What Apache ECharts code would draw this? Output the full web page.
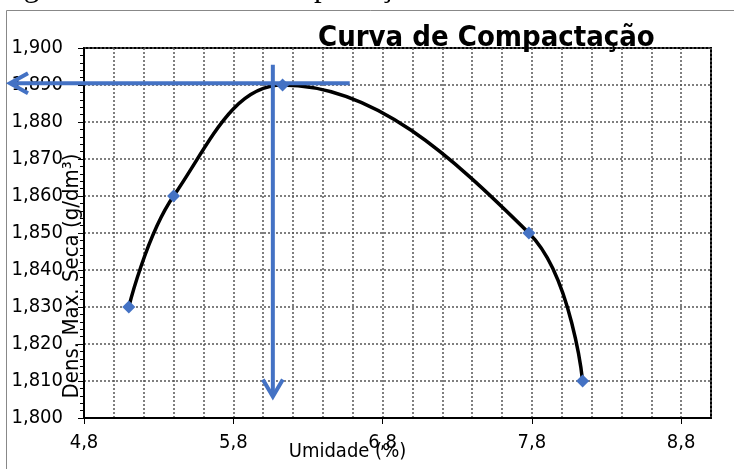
<!DOCTYPE html>
<html>
<head>
<meta charset="utf-8">
<script src="https://cdn.jsdelivr.net/npm/echarts@6/dist/echarts.min.js"></script>
<style>
html, body { margin: 0; padding: 0; background: #fff; }
#chart { width: 734px; height: 469px; }
</style>
</head>
<body>
<div id="chart"></div>
<script>
// umidade (%) x densidade seca maxima (g/dm3)
var umidade = [5.1, 5.4, 6.13, 7.78, 8.14];
var densidade = [1.830, 1.860, 1.890, 1.850, 1.810];
var xLabels = [4.8, 5.8, 6.8, 7.8, 8.8];

// leitura do ponto otimo (setas azuis)
var otimo = [6.065, 1.8905];
var setaHFim = 6.58;            // ponta direita da seta horizontal
var setaV = [1.8955, 1.8058];   // topo / ponta da seta vertical

var fmt = function (v, d) { return v.toFixed(d).replace('.', ','); };
var font = "'DejaVu Sans Condensed', 'DejaVu Sans', sans-serif";
var blue = '#4472c4';
var gridLine = { color: '#555', type: [2, 2], width: 1.5 };

var chart = echarts.init(document.getElementById('chart'));
chart.setOption({
  animation: false,
  title: {
    text: 'Curva de Compactação',
    left: 318, top: 24, padding: 0,
    textStyle: { fontFamily: font, fontSize: 29, fontWeight: 'bold', color: '#000' }
  },
  grid: {
    left: 84, right: 23, top: 48, bottom: 51,
    outerBoundsMode: 'none',
    show: true, borderColor: '#000', borderWidth: 2
  },
  xAxis: [
    {
      type: 'value', min: 4.8, max: 9.0, interval: 0.2,
      axisLine: { show: false },
      axisTick: { show: false },
      axisLabel: { show: false },
      splitLine: { lineStyle: gridLine }
    },
    {
      type: 'value', min: 4.8, max: 9.0, position: 'bottom',
      name: 'Umidade (%)', nameLocation: 'middle', nameGap: 24, nameMoveOverlap: false,
      nameTextStyle: { fontFamily: font, fontSize: 20, color: '#000', padding: [0, 100, 0, 0] },
      axisLine: { onZero: false, lineStyle: { color: '#000', width: 2 } },
      axisTick: { customValues: xLabels, length: 6, lineStyle: { color: '#000', width: 1 } },
      axisLabel: {
        customValues: xLabels, margin: 15,
        fontFamily: font, fontSize: 20, color: '#000',
        formatter: function (v) { return fmt(v, 1); }
      },
      splitLine: { show: false }
    }
  ],
  yAxis: {
    type: 'value', min: 1.8, max: 1.9, interval: 0.01,
    name: 'Dens. Max. Seca (g/dm³)', nameLocation: 'middle', nameGap: 1, nameMoveOverlap: false,
    nameTextStyle: { fontFamily: font, fontSize: 22, color: '#000', padding: [0, 86, 0, 0] },
    axisLine: { onZero: false, lineStyle: { color: '#000', width: 2 } },
    axisTick: { length: 6, lineStyle: { color: '#000', width: 1 } },
    minorTick: { show: true, splitNumber: 5, length: 4, lineStyle: { color: '#000', width: 1 } },
    axisLabel: {
      margin: 21, fontFamily: font, fontSize: 20, color: '#000',
      formatter: function (v) { return fmt(v, 3); }
    },
    splitLine: { lineStyle: gridLine }
  },
  series: [{
    type: 'line',
    xAxisIndex: 0,
    data: umidade.map(function (u, i) { return [u, densidade[i]]; }),
    smooth: 0.4,
    symbol: 'diamond',
    symbolSize: 13,
    itemStyle: { color: blue },
    lineStyle: { color: '#000', width: 3.5 }
  }]
});

var toPx = function (x, y) {
  return chart.convertToPixel({ xAxisIndex: 0, yAxisIndex: 0 }, [x, y]);
};
var pOt = toPx(otimo[0], otimo[1]);
var pH = toPx(setaHFim, otimo[1]);
var pTop = toPx(otimo[0], setaV[0]);
var pBot = toPx(otimo[0], setaV[1]);
var arrowStyle = { stroke: blue, lineWidth: 4, fill: null };
var tipX = 10;

chart.setOption({
  graphic: [
    {
      type: 'rect', silent: true,
      shape: { x: 6.5, y: 10.5, width: 740, height: 480 },
      style: { fill: null, stroke: '#888', lineWidth: 1 }
    },
    {
      type: 'text', silent: true, x: -2, y: -12,
      style: {
        text: 'Figura 1 – Curva de Compactação',
        font: "31px 'Liberation Serif', serif", fill: '#000',
        verticalAlign: 'middle'
      }
    },
    { type: 'line', silent: true, z: 10, shape: { x1: tipX + 2, y1: pOt[1], x2: pH[0], y2: pOt[1] }, style: arrowStyle },
    { type: 'polyline', silent: true, z: 10, shape: { points: [[tipX + 18, pOt[1] - 10], [tipX, pOt[1]], [tipX + 18, pOt[1] + 10]] }, style: arrowStyle },
    { type: 'line', silent: true, z: 10, shape: { x1: pOt[0], y1: pTop[1], x2: pOt[0], y2: pBot[1] - 2 }, style: arrowStyle },
    { type: 'polyline', silent: true, z: 10, shape: { points: [[pOt[0] - 10, pBot[1] - 17], [pOt[0], pBot[1]], [pOt[0] + 10, pBot[1] - 17]] }, style: arrowStyle }
  ]
});
</script>
</body>
</html>
